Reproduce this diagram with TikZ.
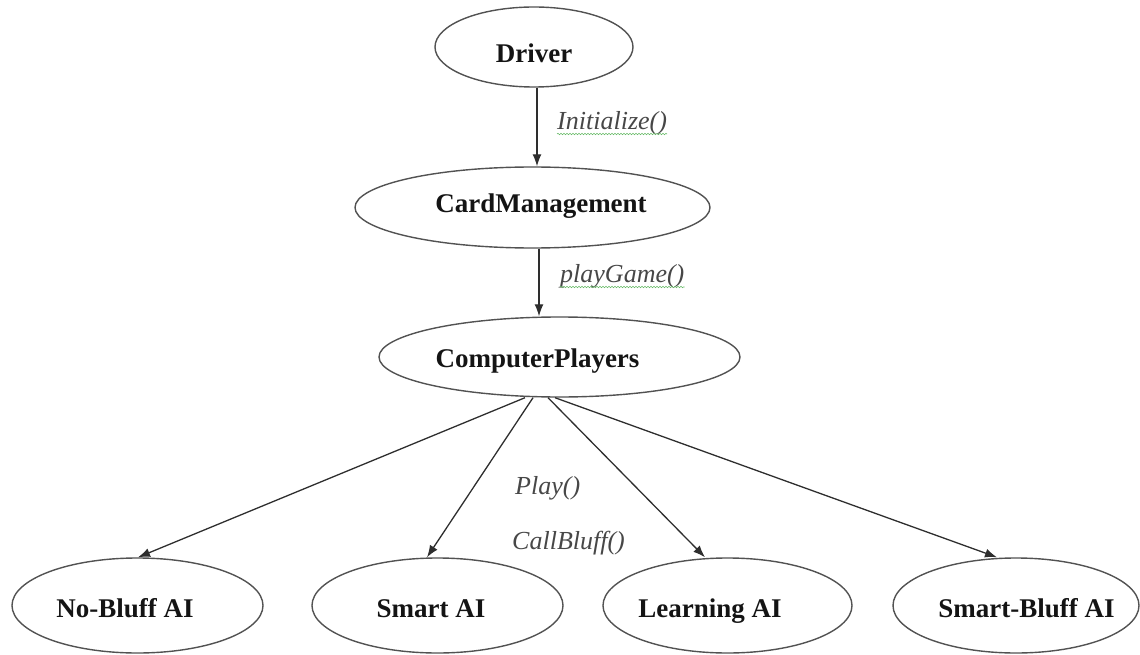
\documentclass[tikz,border=0pt]{standalone}
\usepackage{fontspec}
\setmainfont{Liberation Serif}
\usetikzlibrary{arrows.meta,decorations.pathmorphing,shapes.geometric}

% text inside an oval: horizontal offset (twice the shift), vertical lift, text
\newcommand\ovaltext[3]{\makebox[0pt][c]{\hspace*{#1}\raisebox{#2}{#3}}}

\begin{document}
\begin{tikzpicture}[x=1pt,y=-1pt,
  oval/.style={ellipse, draw=black!68, line width=1.4pt, inner sep=0pt,
    text height=18pt, text depth=0pt, text=black!92,
    font=\fontsize{27}{30}\selectfont\bfseries},
  callarrow/.style={draw=black!82, line width=1.3pt,
    -{Latex[length=12pt,width=9pt]}},
  method/.style={anchor=base west, inner sep=0pt, text=black!72,
    font=\fontsize{26}{30}\selectfont\itshape},
  squiggle/.style={draw=green!55!black!60, line width=0.6pt,
    decorate, decoration={snake, amplitude=0.7pt, segment length=3pt}}
]
\useasboundingbox (0,0) rectangle (1140,655);

% classes
\node[oval, minimum width=198pt, minimum height=80pt] (drv) at (534,47)
  {\ovaltext{0pt}{-7pt}{Driver}};
\node[oval, minimum width=355pt, minimum height=81pt] (cm) at (532.5,207.5)
  {\ovaltext{17pt}{3.5pt}{CardManagement}};
\node[oval, minimum width=361pt, minimum height=80pt] (cp) at (559.5,357)
  {\ovaltext{-44pt}{-1pt}{ComputerPlayers}};

\node[oval, minimum width=251pt, minimum height=95pt] (nb) at (137.5,605.5)
  {\ovaltext{-25pt}{-3pt}{No-Bluff AI}};
\node[oval, minimum width=251pt, minimum height=95pt] (sa) at (437.5,605.5)
  {\ovaltext{-13pt}{-3pt}{Smart AI}};
\node[oval, minimum width=249pt, minimum height=95pt] (la) at (727.5,605.5)
  {\ovaltext{-35pt}{-3pt}{Learning AI}};
\node[oval, minimum width=246pt, minimum height=95pt] (sb) at (1016,605.5)
  {\ovaltext{21pt}{-3pt}{Smart-Bluff AI}};

% calls
\draw[callarrow] ([xshift=3pt]drv.south) -- ([xshift=4.5pt]cm.north);
\draw[callarrow] ([xshift=6.5pt]cm.south) -- ([xshift=-20.5pt]cp.north);

\draw[callarrow] ([xshift=-34.5pt]cp.south) -- ([xshift=0.5pt]nb.north);
\draw[callarrow] ([xshift=-26.5pt]cp.south) -- ([xshift=-10.5pt]sa.north);
\draw[callarrow] ([xshift=-11.5pt]cp.south) -- ([xshift=-22.5pt]la.north);
\draw[callarrow] ([xshift=-4.5pt]cp.south) -- ([xshift=-19pt]sb.north);

% method names
\node[method] (init) at (557,130) {Initialize()};
\node[method] (play) at (560,282) {playGame()};
\node[method] (pl) at (515,494) {Play()};
\node[method] (cb) at (512,549) {CallBluff()};

% spelling marks under two of the names
\draw[squiggle] ([yshift=-4pt]init.base west) -- ([yshift=-4pt]init.base east);
\draw[squiggle] ([yshift=-5pt]play.base west) -- ([yshift=-5pt]play.base east);
\end{tikzpicture}
\end{document}
